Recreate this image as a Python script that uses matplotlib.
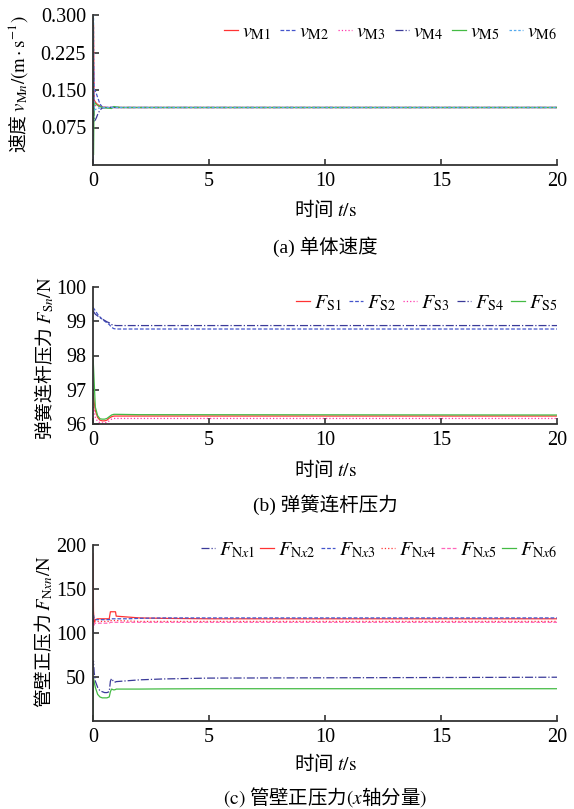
import matplotlib

matplotlib.use("Agg")
import matplotlib.pyplot as plt

plt.rcParams["font.family"] = ["Liberation Serif", "Noto Sans CJK SC"]
plt.rcParams["mathtext.fontset"] = "stix"

CJK = "Noto Sans CJK SC"

# (a) 单体速度
t_v = [0, 0.02, 0.05, 0.1, 0.15, 0.2, 0.3, 0.4, 0.6, 0.8, 0.9, 1.0, 1.2, 2.0, 20.0]
v_M1 = [0.03, 0.28, 0.130, 0.126, 0.123, 0.121, 0.118, 0.116, 0.115, 0.115, 0.115, 0.115, 0.115, 0.115, 0.115]
v_M2 = [0.00, 0.20, 0.150, 0.148, 0.142, 0.135, 0.122, 0.116, 0.115, 0.1155, 0.116, 0.115, 0.115, 0.115, 0.115]
v_M3 = [0.05, 0.25, 0.121, 0.119, 0.118, 0.117, 0.116, 0.115, 0.115, 0.115, 0.115, 0.115, 0.115, 0.115, 0.115]
v_M4 = [0.00, 0.15, 0.088, 0.090, 0.095, 0.101, 0.110, 0.114, 0.115, 0.115, 0.115, 0.115, 0.115, 0.115, 0.115]
v_M5 = [0.30, 0.02, 0.125, 0.123, 0.121, 0.119, 0.117, 0.115, 0.114, 0.113, 0.117, 0.116, 0.115, 0.115, 0.115]
v_M6 = [0.00, 0.30, 0.110, 0.111, 0.112, 0.113, 0.114, 0.115, 0.115, 0.115, 0.115, 0.115, 0.115, 0.115, 0.115]

# (b) 弹簧连杆压力
t_s = [0, 0.1, 0.2, 0.3, 0.4, 0.5, 0.6, 0.7, 0.8, 0.9, 1.0, 2.0, 20.0]
F_S1 = [96.9, 96.40, 96.20, 96.12, 96.10, 96.10, 96.12, 96.18, 96.22, 96.24, 96.24, 96.24, 96.24]
F_S2 = [99.4, 99.30, 99.20, 99.12, 99.05, 99.00, 98.95, 98.90, 98.82, 98.78, 98.77, 98.77, 98.77]
F_S3 = [96.6, 96.20, 96.08, 96.05, 96.04, 96.04, 96.06, 96.10, 96.15, 96.17, 96.17, 96.17, 96.17]
F_S4 = [99.3, 99.20, 99.15, 99.10, 99.06, 99.02, 98.98, 98.95, 98.90, 98.88, 98.87, 98.87, 98.87]
F_S5 = [98.0, 96.50, 96.25, 96.16, 96.15, 96.15, 96.17, 96.22, 96.27, 96.29, 96.29, 96.28, 96.27]

# (c) 管壁正压力(x轴分量)
t_n = [0, 0.02, 0.05, 0.1, 0.2, 0.3, 0.4, 0.5, 0.6, 0.7, 0.75, 0.8, 0.9, 0.97, 1.0, 1.5, 2.0, 3.0, 5.0, 20.0]
F_Nx1 = [60, 68, 55, 45, 38, 34, 33, 32, 32, 33, 45, 48, 44, 44, 44.5, 45.5, 46.5, 47.5, 48.5, 49.5]
F_Nx2 = [190, 125, 112, 115, 116, 116, 116, 116, 116, 116, 124, 124, 124, 124, 119, 118, 117, 116.5, 116, 116]
F_Nx3 = [100, 120, 116, 115, 115, 115, 115, 115, 115, 115, 116, 116, 116, 116, 116, 116, 116.5, 117, 117, 117]
F_Nx4 = [105, 108, 112, 113, 113, 113, 113, 113, 113, 113, 114, 114, 114, 114, 114, 113.5, 113, 113, 113, 113]
F_Nx5 = [110, 106, 110, 111, 111, 111, 111, 111, 111, 111, 112, 112, 112, 112, 112, 112, 112, 112, 112, 112]
F_Nx6 = [0, 48, 44, 38, 30, 27, 26, 26, 26, 27, 33, 36, 35, 35.5, 36, 36, 36, 36.2, 36.4, 36.4]

RED = "#ff3333"
BLUE = "#4455cc"
NAVY = "#3a3a99"
PINK = "#ff33aa"
GREEN = "#44bb44"
LBLUE = "#55aaee"

fig = plt.figure(figsize=(5.74, 8.09), dpi=100)

left, width = 93 / 574, 464 / 574


def rect(top_px, bottom_px):
    return [left, 1 - bottom_px / 809, width, (bottom_px - top_px) / 809]


def style(ax, yticks, ylabels, ylim):
    ax.set_xlim(0, 20)
    ax.set_ylim(*ylim)
    ax.set_xticks([0, 5, 10, 15, 20])
    ax.set_yticks(yticks)
    ax.set_yticklabels(ylabels)
    for side in ("top", "right"):
        ax.spines[side].set_visible(False)
    for side in ("left", "bottom"):
        ax.spines[side].set_linewidth(1.3)
        ax.spines[side].set_color("#333333")
    ax.tick_params(direction="in", length=4, width=1.2, color="#333333",
                   labelsize=14.5, pad=5)


def legend(ax, y, spacing=0.4):
    ax.legend(loc="center right", bbox_to_anchor=(1.0, y), ncol=6,
              frameon=False, fontsize=14.5, handlelength=0.7,
              handletextpad=0.2, columnspacing=spacing, borderaxespad=0,
              borderpad=0)


lw = 0.9

# (a)
ax1 = fig.add_axes(rect(15, 165))
ax1.plot(t_v, v_M1, color=RED, lw=lw, ls="-", label=r"$v_{\mathrm{M1}}$")
ax1.plot(t_v, v_M2, color=BLUE, lw=lw, ls=(0, (3, 1.5)), label=r"$v_{\mathrm{M2}}$")
ax1.plot(t_v, v_M3, color=PINK, lw=lw, ls=":", label=r"$v_{\mathrm{M3}}$")
ax1.plot(t_v, v_M4, color=NAVY, lw=lw, ls="-.", label=r"$v_{\mathrm{M4}}$")
ax1.plot(t_v, v_M5, color=GREEN, lw=lw, ls="-", label=r"$v_{\mathrm{M5}}$")
ax1.plot(t_v, v_M6, color=LBLUE, lw=lw, ls=(0, (2, 1.5)), label=r"$v_{\mathrm{M6}}$")
style(ax1, [0.075, 0.15, 0.225, 0.3], ["0.075", "0.150", "0.225", "0.300"], (0, 0.3))
legend(ax1, 0.88, 0.45)

# (b)
ax2 = fig.add_axes(rect(286.7, 424.3))
ax2.plot(t_s, F_S1, color=RED, lw=lw, ls="-", label=r"$F_{\mathrm{S1}}$")
ax2.plot(t_s, F_S2, color=BLUE, lw=lw, ls=(0, (3, 1.5)), label=r"$F_{\mathrm{S2}}$")
ax2.plot(t_s, F_S3, color=PINK, lw=lw, ls=":", label=r"$F_{\mathrm{S3}}$")
ax2.plot(t_s, F_S4, color=NAVY, lw=lw, ls="-.", label=r"$F_{\mathrm{S4}}$")
ax2.plot(t_s, F_S5, color=GREEN, lw=lw, ls="-", label=r"$F_{\mathrm{S5}}$")
style(ax2, [96, 97, 98, 99, 100], ["96", "97", "98", "99", "100"], (96, 100))
legend(ax2, 0.88, 0.35)

# (c)
ax3 = fig.add_axes(rect(545, 720.7))
ax3.plot(t_n, F_Nx1, color=NAVY, lw=lw, ls="-.", label=r"$F_{\mathrm{N}x1}$")
ax3.plot(t_n, F_Nx2, color=RED, lw=lw, ls="-", label=r"$F_{\mathrm{N}x2}$")
ax3.plot(t_n, F_Nx3, color=BLUE, lw=lw, ls=(0, (3, 1.5)), label=r"$F_{\mathrm{N}x3}$")
ax3.plot(t_n, F_Nx4, color=RED, lw=lw, ls=":", label=r"$F_{\mathrm{N}x4}$")
ax3.plot(t_n, F_Nx5, color="#ff66bb", lw=lw, ls=(0, (3, 1.5)), label=r"$F_{\mathrm{N}x5}$")
ax3.plot(t_n, F_Nx6, color=GREEN, lw=lw, ls="-", label=r"$F_{\mathrm{N}x6}$")
style(ax3, [50, 100, 150, 200], ["50", "100", "150", "200"], (0, 200))
legend(ax3, 0.97, 0.25)

# 坐标轴标题与分图标题
cx = 325 / 574
xlab = "时间 $t/\\mathrm{s}$"
for y_px in (210, 469, 763):
    fig.text(cx, 1 - y_px / 809, xlab, ha="center", va="center",
             fontsize=14, family=CJK)

fig.text(18 / 574, 1 - 84 / 809,
         r"速度 $v_{\mathrm{M}n}/(\mathrm{m}\cdot\mathrm{s}^{-1})$",
         rotation=90, ha="center", va="center", fontsize=13.5, family=CJK)
fig.text(44 / 574, 1 - 358 / 809,
         r"弹簧连杆压力 $F_{\mathrm{S}n}/\mathrm{N}$",
         rotation=90, ha="center", va="center", fontsize=13.5, family=CJK)
fig.text(44 / 574, 1 - 632 / 809,
         r"管壁正压力 $F_{\mathrm{N}xn}/\mathrm{N}$",
         rotation=90, ha="center", va="center", fontsize=13.5, family=CJK)

fig.text(cx, 1 - 247 / 809, "(a) 单体速度", ha="center", va="center",
         fontsize=14)
fig.text(cx, 1 - 505 / 809, "(b) 弹簧连杆压力", ha="center", va="center",
         fontsize=14)
fig.text(cx, 1 - 797 / 809, r"$(\mathrm{c})$ 管壁正压力$(x$轴分量$)$",
         ha="center", va="center", fontsize=14, family=CJK)

fig.savefig("out.png", dpi=100)
